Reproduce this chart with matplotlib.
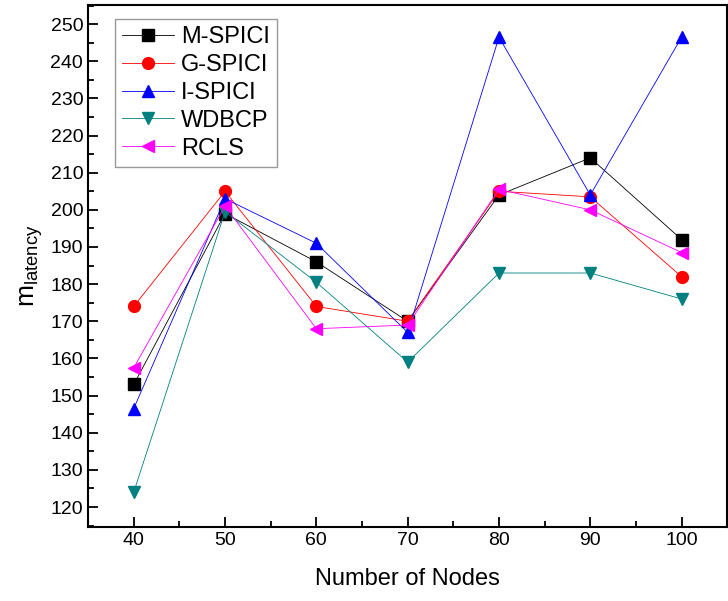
import matplotlib.pyplot as plt
from matplotlib.ticker import MultipleLocator

plt.rcParams['font.family'] = ['Liberation Sans', 'DejaVu Sans']
plt.rcParams['mathtext.default'] = 'regular'

nodes = [40, 50, 60, 70, 80, 90, 100]
m_spici = [153, 199, 186, 170, 204, 214, 192]
g_spici = [174, 205, 174, 170, 205, 203.5, 182]
i_spici = [146.5, 203, 191, 167, 246.5, 204, 246.5]
wdbcp = [124, 199.5, 180.5, 159, 183, 183, 176]
rcls = [157.5, 201, 168, 169, 205.5, 200, 188.5]

series = [
    ('M-SPICI', m_spici, 'black', 's'),
    ('G-SPICI', g_spici, 'red', 'o'),
    ('I-SPICI', i_spici, 'blue', '^'),
    ('WDBCP', wdbcp, '#008080', 'v'),
    ('RCLS', rcls, 'magenta', '<'),
]

fig = plt.figure(figsize=(7.28, 6.01), dpi=100)
ax = fig.add_axes([0.121, 0.123, 0.878, 0.869])

for name, vals, col, mk in series:
    ax.plot(nodes, vals, color=col, marker=mk, markersize=8.5, linewidth=0.6,
            label=name)

ax.set_xlim(35, 105)
ax.set_ylim(114.6, 255.2)
ax.xaxis.set_major_locator(MultipleLocator(10))
ax.xaxis.set_minor_locator(MultipleLocator(5))
ax.yaxis.set_major_locator(MultipleLocator(10))
ax.yaxis.set_minor_locator(MultipleLocator(5))
ax.tick_params(which='both', direction='in', width=1.3, labelsize=14)
ax.tick_params(which='major', length=7)
ax.tick_params(which='minor', length=4)
for s in ax.spines.values():
    s.set_linewidth(1.5)

ax.set_xlabel('Number of Nodes', fontsize=17, labelpad=14)
ax.set_ylabel(r'm$_{latency}$', fontsize=19, labelpad=4)

leg = ax.legend(loc='upper left', bbox_to_anchor=(0.042, 0.973), fontsize=17,
                frameon=True, fancybox=False, edgecolor='gray',
                handlelength=2.2, labelspacing=0.25, borderpad=0.3,
                handletextpad=0.3, borderaxespad=0)
leg.get_frame().set_linewidth(1.0)

fig.savefig('out.png', dpi=100)
